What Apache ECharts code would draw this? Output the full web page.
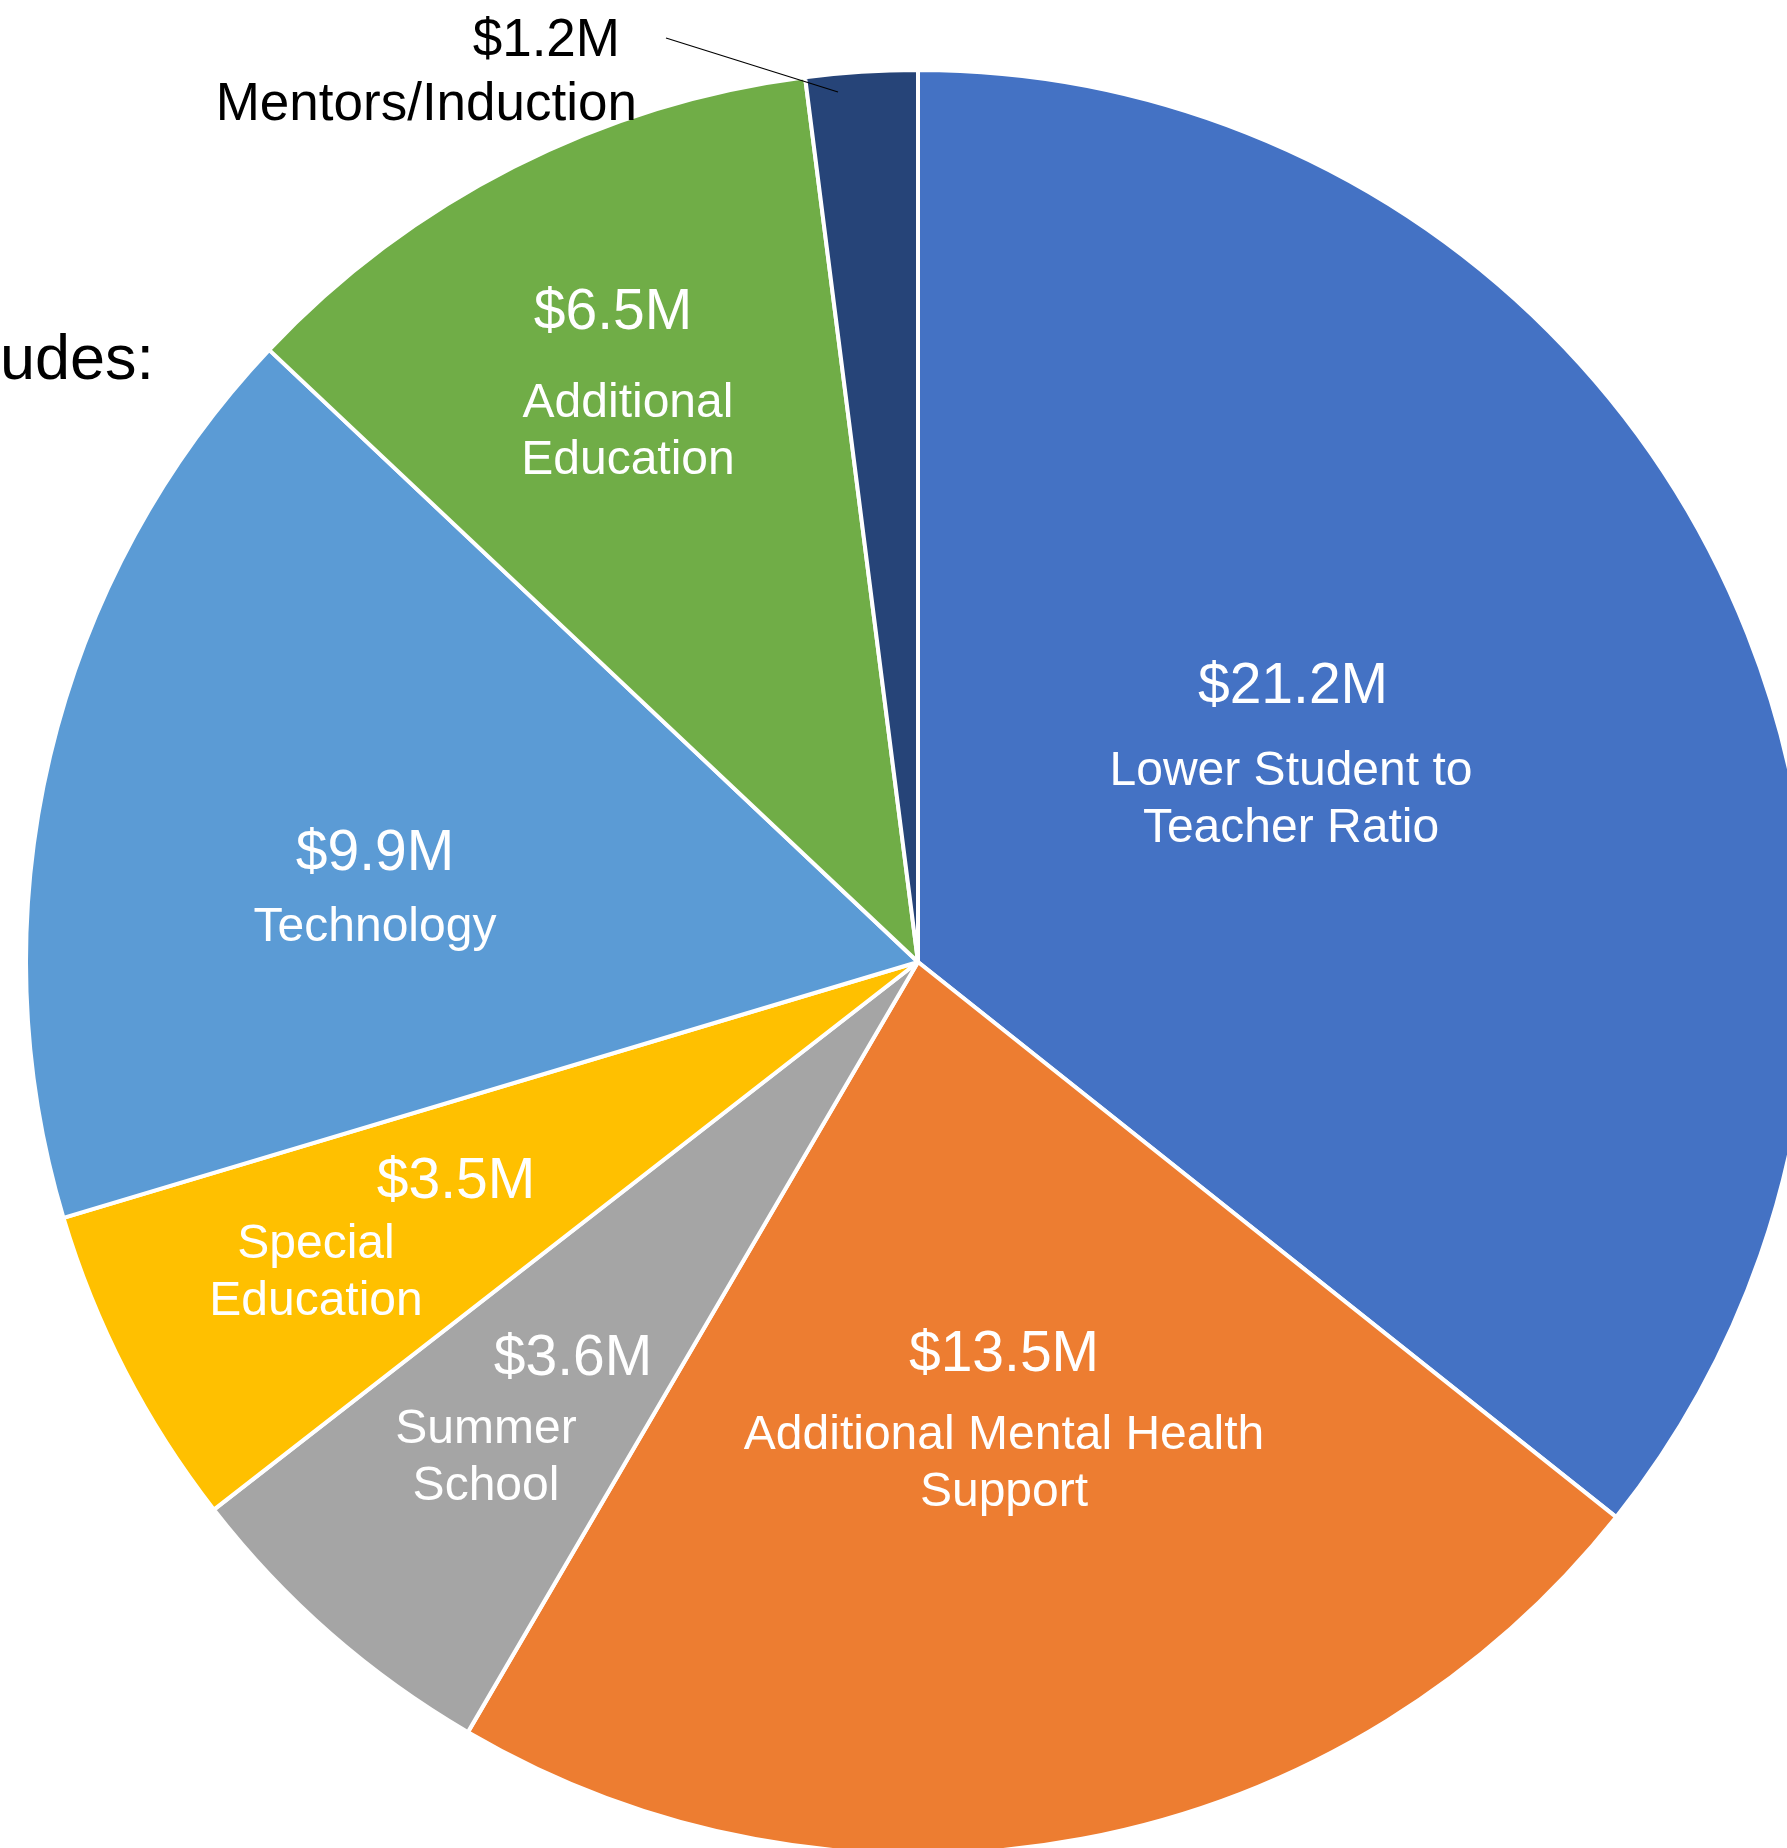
<!DOCTYPE html>
<html>
<head>
<meta charset="utf-8">
<script src="https://cdn.jsdelivr.net/npm/echarts@6/dist/echarts.min.js"></script>
<style>
  html, body { margin: 0; padding: 0; background: #fff; }
  #main { width: 1787px; height: 1848px; }
</style>
</head>
<body>
<div id="main"></div>
<script>
// slice names (line breaks as in the picture) and amounts in $M
const categories = [
  'Lower Student to\nTeacher Ratio',
  'Additional Mental Health\nSupport',
  'Summer\nSchool',
  'Special\nEducation',
  'Technology',
  'Additional\nEducation',
  'Mentors/Induction'
]
const values = [21.2, 13.5, 3.6, 3.5, 9.9, 6.5, 1.2]
const colors = ['#4472C4', '#ED7D31', '#A5A5A5', '#FFC000', '#5B9BD5', '#70AD47', '#264478']

// label placement (layout only)
const labelPos = [[1291, 744], [1004, 1412], [486, 1416], [316, 1239], [375, 883], [628, 370], [637, 71]]
const valueLineHeight = [113, 105, 85, 69, 89, 125, 69]
const valuePadding = [[0, 0, 0, 4], [0, 0, 0, 0], [0, 0, 0, 174], [0, 0, 0, 280], [0, 0, 0, 0], [0, 30, 0, 0], [0, 17, 0, 0]]

const font = '"Liberation Sans", Arial, sans-serif'
const chart = echarts.init(document.getElementById('main'))

const data = values.map((v, i) => {
  const outside = i === values.length - 1
  return {
    name: categories[i],
    value: v,
    itemStyle: { color: colors[i] },
    label: {
      position: outside ? 'outside' : 'inside',
      color: outside ? '#000' : '#fff',
      rich: {
        v: {
          fontSize: outside ? 53 : 57,
          lineHeight: valueLineHeight[i],
          padding: valuePadding[i],
          color: outside ? '#000' : '#fff'
        },
        n: {
          fontSize: outside ? 53 : 48,
          lineHeight: outside ? 60 : 57,
          color: outside ? '#000' : '#fff'
        }
      }
    },
    labelLine: { show: false }
  }
})

const option = {
  animation: false,
  backgroundColor: '#fff',
  graphic: [
    {
      type: 'text',
      left: 0,
      top: 330,
      style: { text: 'udes:', font: '63px ' + font, fill: '#000' }
    },
    {
      // leader line for the small Mentors/Induction slice, drawn over the slice
      type: 'polyline',
      z: 100,
      shape: { points: [[666, 38], [838, 92]] },
      style: { stroke: '#000', lineWidth: 1.2, fill: null }
    }
  ],
  series: [
    {
      type: 'pie',
      center: [918, 962],
      radius: [0, 892],
      startAngle: 90,
      clockwise: true,
      avoidLabelOverlap: false,
      itemStyle: { borderColor: '#fff', borderWidth: 4 },
      label: {
        show: true,
        rotate: 0,
        fontFamily: font,
        align: 'center',
        formatter: p => {
          const lines = p.name.split('\n').map(s => '{n|' + s + '}')
          return '{v|$' + p.value.toFixed(1) + 'M}\n' + lines.join('\n')
        },
        rich: {
          v: { fontFamily: font },
          n: { fontFamily: font }
        }
      },
      labelLayout: p => {
        const i = p.dataIndex
        return {
          x: labelPos[i][0],
          y: labelPos[i][1],
          align: i === values.length - 1 ? 'right' : 'center',
          verticalAlign: 'middle'
        }
      },
      data: data
    }
  ]
}

chart.setOption(option)
</script>
</body>
</html>
